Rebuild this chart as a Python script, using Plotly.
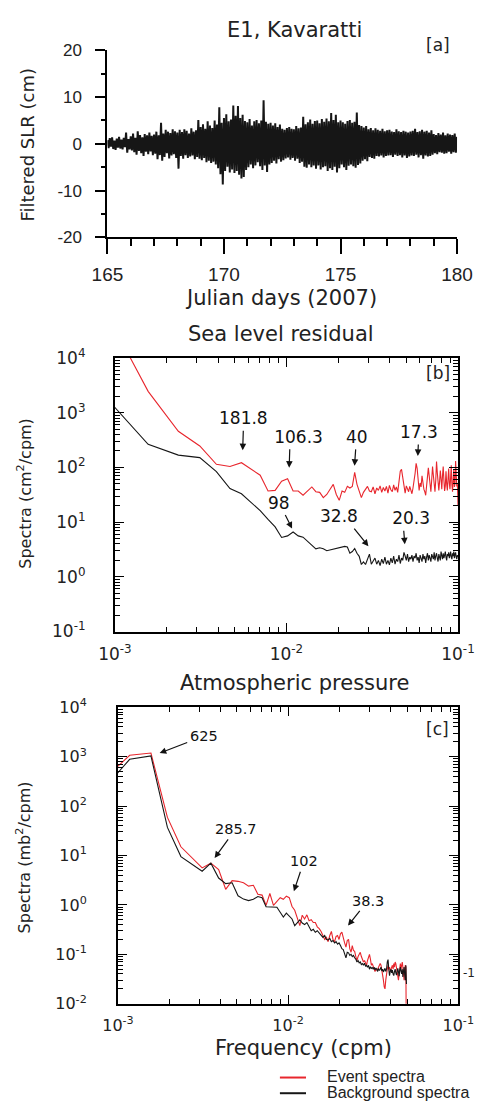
import math
import plotly.graph_objects as go

W, H = 502, 1114
RED = "#e8262d"
BLACK = "#161616"

# ---------------- Panel [a]: filtered sea-level residual (cm) ----------------
slr_start_day = 165.0
slr_step_day = 0.05
slr_cm = [
    0.8, -0.9, 1.2, -0.6, 1.4, -1.1, 0.7, -1.3, 1.1, -0.8, 1.5, -1.0, 0.9, -1.2, 1.3, -0.7, 2.4, -1.9, 1.0, -1.2,
    1.6, -1.4, 2.2, -1.8, 1.3, -2.3, 2.7, -1.5, 1.9, -2.0, 1.4, -2.6, 2.1, -1.7, 1.8, -2.2, 2.4, -1.6, 1.7, -2.4,
    2.0, -2.1, 2.6, -3.3, 1.8, -2.4, 4.5, -3.6, 2.2, -2.8, 3.0, -2.0, 2.6, -3.1, 2.3, -2.5, 3.1, -2.2, 2.7, -3.0,
    2.4, -5.3, 3.0, -2.6, 2.5, -3.2, 3.1, -2.4, 2.8, -3.0, 2.2, -2.7, 3.3, -2.5, 2.6, -3.3, 2.9, -2.8, 5.1, -3.2,
    3.6, -3.5, 4.2, -3.0, 3.2, -3.9, 4.8, -3.6, 3.9, -4.1, 3.4, -3.8, 5.0, -4.4, 4.1, -5.2, 7.8, -6.5, 4.5, -8.7,
    5.5, -5.8, 6.3, -4.9, 4.8, -6.1, 5.2, -5.5, 8.2, -6.2, 6.0, -5.8, 8.1, -6.6, 5.5, -7.4, 6.2, -7.1, 4.9, -5.6,
    4.6, -5.0, 5.3, -4.4, 3.9, -5.2, 4.8, -4.6, 5.1, -3.9, 4.4, -4.8, 5.0, -5.6, 9.3, -4.6, 4.7, -6.0, 4.3, -4.4,
    4.5, -4.1, 3.9, -3.6, 4.4, -4.2, 3.6, -3.3, 4.1, -3.8, 3.2, -3.5, 3.0, -3.1, 3.4, -2.9, 3.6, -3.4, 3.2, -3.0,
    3.1, -3.6, 3.8, -3.2, 3.3, -4.1, 3.5, -3.8, 5.8, -4.9, 4.2, -5.1, 4.6, -4.4, 5.2, -5.0, 4.3, -4.6, 4.9, -5.3,
    5.0, -4.6, 4.4, -5.5, 5.3, -5.0, 4.7, -4.8, 5.4, -5.8, 4.8, -5.2, 6.6, -5.6, 5.1, -4.9, 6.2, -6.1, 4.6, -5.2,
    5.0, -4.4, 4.6, -5.0, 4.3, -5.6, 4.9, -4.7, 5.1, -4.4, 4.5, -4.8, 4.7, -5.1, 6.7, -4.5, 4.0, -4.2, 3.8, -3.6,
    3.5, -3.3, 3.8, -3.7, 3.1, -2.8, 3.4, -3.0, 2.9, -3.2, 3.3, -2.6, 3.0, -2.7, 2.8, -2.5, 3.2, -2.9, 2.7, -2.6,
    2.9, -2.5, 3.0, -2.4, 2.6, -2.8, 2.5, -2.3, 3.1, -2.6, 2.7, -2.4, 2.5, -2.9, 2.8, -2.5, 2.6, -3.0, 2.4, -2.7,
    2.6, -2.5, 2.8, -2.6, 3.2, -2.3, 2.5, -2.9, 2.7, -2.4, 3.0, -3.2, 2.6, -2.5, 2.8, -2.7, 2.4, -2.6, 2.9, -2.3,
    2.1, -2.0, 1.9, -2.2, 2.3, -1.8, 2.0, -1.9, 2.4, -2.1, 1.8, -2.0, 2.2, -1.7, 2.0, -2.1, 1.9, -1.8, 2.2, -1.9,
    1.5,
]
slr_ticks = [-20, -10, 0, 10, 20]
slr_tick_text = ["-20", "-10", "0", "10", "20"]

# ---------------- Panel [b]: sea level residual spectra ----------------
df_b = 1.0 / 1280.0          # frequency resolution (cpm), bins k = 1..128
sl_event = [
    146000, 2460, 459, 247, 114, 104, 122, 91, 72, 37,
    38, 56, 62, 37, 37, 31, 37, 44, 36, 35,
    28, 32, 40, 49, 32, 25, 37, 35, 45, 42,
    45, 81, 49, 35, 28, 35, 40, 45, 37, 36,
    44, 33, 42, 38, 46, 35, 43, 37, 45, 34,
    47, 39, 36, 48, 38, 44, 35, 60, 85, 92,
    62, 40, 34, 46, 41, 36, 45, 38, 33, 42,
    55, 78, 119, 96, 60, 38, 52, 44, 70, 48,
    40, 36, 31, 46, 62, 98, 70, 41, 36, 60,
    104, 72, 44, 36, 58, 128, 80, 42, 38, 55,
    88, 62, 40, 70, 104, 58, 37, 46, 85, 50,
    38, 60, 95, 52, 40, 66, 110, 48, 36, 58,
    92, 44, 50, 131, 60, 45, 52, 20,
]
sl_background = [
    2940, 265, 168, 151, 84, 41, 33, 23, 16.2, 11.2,
    8.2, 5.25, 5.6, 6.6, 5.6, 5.3, 4.5, 3.8, 3.25, 3.4,
    3.25, 3.0, 3.1, 3.25, 3.3, 3.4, 3.5, 3.6, 3.5, 2.7,
    2.9, 3.3, 2.7, 2.37, 1.68, 1.87, 1.68, 2.14, 2.6, 1.7,
    1.9, 2.2, 1.7, 2.0, 1.6, 2.1, 1.75, 2.3, 1.7, 2.0,
    1.65, 2.2, 1.8, 2.4, 1.7, 2.1, 1.9, 2.5, 1.75, 2.2,
    2.0, 2.8, 2.4, 2.0, 2.6, 1.9, 2.3, 2.1, 2.5, 1.9,
    2.4, 2.2, 2.7, 2.0, 2.3, 1.8, 2.5, 2.2, 1.9, 2.6,
    2.1, 2.4, 1.8, 2.3, 2.7, 2.0, 2.5, 2.2, 1.9, 2.6,
    2.3, 2.1, 2.8, 2.0, 2.4, 2.7, 2.2, 1.9, 2.6, 2.3,
    2.0, 2.9, 2.4, 2.1, 2.7, 2.2, 2.5, 2.9, 2.3, 2.0,
    2.6, 2.4, 2.8, 2.2, 2.5, 2.9, 2.3, 2.1, 2.7, 2.4,
    2.9, 2.2, 2.6, 2.8, 2.3, 2.1, 2.5, 2.3,
]

# ---------------- Panel [c]: atmospheric pressure spectra ----------------
df_c = 1.0 / 2560.0          # frequency resolution (cpm), bins k = 2..127
k0_c = 2
ap_event = [
    292, 1066, 1186, 59, 15, 8.8, 5.6, 7.0, 5.2, 2.07,
    3.1, 3.0, 2.8, 2.4, 2.5, 1.65, 1.58, 0.98, 1.7, 0.98,
    1.2, 1.4, 1.3, 1.5, 1.4, 0.93, 0.78, 0.55, 0.38, 0.62,
    0.52, 0.63, 0.48, 0.5, 0.44, 0.44, 0.36, 0.33, 0.29, 0.24,
    0.2, 0.22, 0.18, 0.24, 0.29, 0.2, 0.18, 0.23, 0.24, 0.2,
    0.26, 0.28, 0.2, 0.17, 0.14, 0.19, 0.2, 0.13, 0.11, 0.15,
    0.12, 0.115, 0.09, 0.075, 0.09, 0.1, 0.11, 0.09, 0.08, 0.07,
    0.075, 0.065, 0.06, 0.075, 0.09, 0.1, 0.08, 0.06, 0.065, 0.058,
    0.05, 0.045, 0.05, 0.048, 0.05, 0.055, 0.06, 0.065, 0.06, 0.05,
    0.04, 0.03, 0.022, 0.02, 0.03, 0.045, 0.05, 0.06, 0.05, 0.055,
    0.045, 0.05, 0.055, 0.06, 0.05, 0.065, 0.055, 0.07, 0.065, 0.05,
    0.04, 0.035, 0.03, 0.04, 0.05, 0.065, 0.05, 0.06, 0.07, 0.055,
    0.04, 0.03, 0.05, 0.06, 0.055, 0.001,
]
ap_background = [
    180, 887, 1035, 37, 9.5, 6.7, 4.8, 7.0, 3.5, 2.7,
    2.8, 1.53, 1.31, 1.22, 1.3, 1.48, 1.4, 0.92, 0.92, 0.92,
    0.9, 0.71, 0.57, 0.68, 0.6, 0.52, 0.38, 0.45, 0.5, 0.43,
    0.4, 0.44, 0.36, 0.3, 0.32, 0.28, 0.3, 0.27, 0.25, 0.22,
    0.24, 0.2, 0.195, 0.21, 0.18, 0.19, 0.17, 0.18, 0.16, 0.17,
    0.15, 0.13, 0.125, 0.1, 0.085, 0.11, 0.107, 0.095, 0.1, 0.09,
    0.095, 0.085, 0.08, 0.07, 0.075, 0.067, 0.07, 0.062, 0.065, 0.06,
    0.066, 0.058, 0.06, 0.055, 0.06, 0.05, 0.056, 0.052, 0.054, 0.05,
    0.055, 0.048, 0.053, 0.05, 0.045, 0.052, 0.047, 0.05, 0.055, 0.046,
    0.05, 0.044, 0.048, 0.052, 0.045, 0.05, 0.07, 0.078, 0.05, 0.037,
    0.045, 0.05, 0.042, 0.048, 0.04, 0.037, 0.045, 0.05, 0.042, 0.038,
    0.045, 0.052, 0.044, 0.036, 0.048, 0.055, 0.045, 0.04, 0.05, 0.035,
    0.045, 0.055, 0.04, 0.03, 0.06, 0.025,
]

decade_b_y = [0.1, 1, 10, 100, 1000, 10000]
decade_b_y_text = ["10<sup>-1</sup>", "10<sup>0</sup>", "10<sup>1</sup>", "10<sup>2</sup>",
                   "10<sup>3</sup>", "10<sup>4</sup>"]
decade_c_y = [0.01, 0.1, 1, 10, 100, 1000, 10000]
decade_c_y_text = ["10<sup>-2</sup>"] + decade_b_y_text
decade_x = [0.001, 0.01, 0.1]
decade_x_text = ["10<sup>-3</sup>", "10<sup>-2</sup>", "10<sup>-1</sup>"]

# ---------------- derived grids ----------------
days = [slr_start_day + i * slr_step_day for i in range(len(slr_cm))]
freq_b = [(i + 1) * df_b for i in range(len(sl_event))]
freq_c = [(i + k0_c) * df_c for i in range(len(ap_event))]


def minor_log(lo, hi):
    return [m * 10.0 ** e for e in range(lo, hi) for m in range(2, 10)]


fig = go.Figure()
fig.add_trace(go.Scatter(x=days, y=slr_cm, mode="lines", line=dict(color=BLACK, width=2),
                         xaxis="x", yaxis="y", showlegend=False))
fig.add_trace(go.Scatter(x=freq_b, y=sl_event, mode="lines", line=dict(color=RED, width=1.1),
                         xaxis="x2", yaxis="y2", showlegend=False))
fig.add_trace(go.Scatter(x=freq_b, y=sl_background, mode="lines", line=dict(color=BLACK, width=1.1),
                         xaxis="x2", yaxis="y2", showlegend=False))
fig.add_trace(go.Scatter(x=freq_c, y=ap_event, mode="lines", line=dict(color=RED, width=1.1),
                         xaxis="x3", yaxis="y3", showlegend=False))
fig.add_trace(go.Scatter(x=freq_c, y=ap_background, mode="lines", line=dict(color=BLACK, width=1.1),
                         xaxis="x3", yaxis="y3", showlegend=False))


def px_x(p):
    return p / W


def px_y(p):
    return 1 - p / H


narrow = "Liberation Sans Narrow, Arial Narrow, sans-serif"
dejavu = "DejaVu Sans, sans-serif"
arial = "Liberation Sans, Arial, sans-serif"

axis_a_common = dict(showline=True, linecolor="black", linewidth=2, showgrid=False, zeroline=False,
                     ticks="outside", tickwidth=2, tickcolor="black")

spec_axis = dict(type="log", showline=True, linecolor="black", linewidth=2, mirror="ticks",
                 showgrid=False, zeroline=False, ticks="inside", ticklen=9, tickwidth=1.2,
                 tickcolor="black", tickmode="array")

fig.update_layout(
    width=W, height=H, margin=dict(l=0, r=0, t=0, b=0),
    paper_bgcolor="white", plot_bgcolor="white", showlegend=False,
    xaxis=dict(axis_a_common, domain=[px_x(97), px_x(472)], anchor="y", range=[165, 180],
               tick0=165, dtick=5, ticklen=15,
               minor=dict(ticks="outside", ticklen=7, tickwidth=2, dtick=1, tick0=165, tickcolor="black"),
               tickfont=dict(family=narrow, size=19, color="#222"), ticklabelstandoff=4),
    yaxis=dict(axis_a_common, domain=[px_y(230), px_y(39)], anchor="x", range=[-20, 20],
               tickmode="array", tickvals=slr_ticks, ticktext=slr_tick_text, ticklen=10,
               minor=dict(ticks="outside", ticklen=4, tickwidth=2, dtick=5, tick0=0, tickcolor="black"),
               tickfont=dict(family=narrow, size=17, color="#222"), ticklabelstandoff=10),
    xaxis2=dict(spec_axis, domain=[px_x(105), px_x(473)], anchor="y2", range=[-3, -1],
                tickvals=decade_x, ticktext=decade_x_text,
                minor=dict(ticks="inside", ticklen=5, tickwidth=1, tickvals=minor_log(-3, -1), tickcolor="black"),
                tickfont=dict(family=dejavu, size=17, color="#222"), ticklabelstandoff=6),
    yaxis2=dict(spec_axis, domain=[px_y(632), px_y(353)], anchor="x2", range=[-1, 4],
                tickvals=decade_b_y, ticktext=decade_b_y_text,
                minor=dict(ticks="inside", ticklen=5, tickwidth=1, tickvals=minor_log(-1, 4), tickcolor="black"),
                tickfont=dict(family=dejavu, size=17, color="#222"), ticklabelstandoff=24),
    xaxis3=dict(spec_axis, domain=[px_x(108.3), px_x(473.3)], anchor="y3", range=[-3, -1],
                tickvals=decade_x, ticktext=decade_x_text,
                minor=dict(ticks="inside", ticklen=5, tickwidth=1, tickvals=minor_log(-3, -1), tickcolor="black"),
                tickfont=dict(family=dejavu, size=16, color="#222"), ticklabelstandoff=6),
    yaxis3=dict(spec_axis, domain=[px_y(1011.7), px_y(709.3)], anchor="x3", range=[-2, 4],
                tickvals=decade_c_y, ticktext=decade_c_y_text,
                minor=dict(ticks="inside", ticklen=5, tickwidth=1, tickvals=minor_log(-2, 4), tickcolor="black"),
                tickfont=dict(family=dejavu, size=16, color="#222"), ticklabelstandoff=26),
)

ann = []


def paper_text(x, y, text, size, family=dejavu, angle=0, xanchor="center"):
    ann.append(dict(x=px_x(x), y=px_y(y), xref="paper", yref="paper", text=text, showarrow=False,
                    font=dict(family=family, size=size, color="#222"), textangle=angle,
                    xanchor=xanchor, yanchor="middle"))


# titles & labels
paper_text(298, 18, "E1, Kavaratti", 21)
paper_text(452, 34, "[a]", 17)
paper_text(11, 135, "Filtered SLR (cm)", 18, angle=-90)
paper_text(283, 292, "Julian days (2007)", 21)
paper_text(283, 328, "Sea level residual", 21)
paper_text(452, 368, "[b]", 17)
paper_text(8, 491, "Spectra (cm<sup>2</sup>/cpm)", 16, angle=-90)
paper_text(298, 685, "Atmospheric pressure", 21)
paper_text(451, 731, "[c]", 17)
paper_text(8, 862, "Spectra (mb<sup>2</sup>/cpm)", 16, angle=-90)
paper_text(307, 1057, "Frequency (cpm)", 21)
paper_text(476, 980, "-1", 12, xanchor="left")

NB = "&nbsp;"
# peak labels: (text, x_tip, y_tip [log10 units], ax, ay [px offset of the label box centre])
peaks_b = [
    ("181.8", -2.255, 2.315, 1, -32),
    (NB * 3 + "106.3", -1.984, 1.993, 1, -31),
    ("40", -1.603, 2.029, 2, -29),
    ("17.3", -1.234, 2.208, 1, -24),
    ("98", -1.967, 0.882, -13, -26),
    ("32.8" + NB * 2, -1.522, 0.559, -24, -30),
    (NB * 3 + "20.3", -1.310, 0.595, -2, -26),
]
peaks_c = [
    ("625", -2.755, 3.073, 44, -17),
    ("285.7", -2.432, 0.950, 21, -29),
    ("102", -1.966, 0.276, 10, -30),
    ("38.3", -1.648, -0.419, 20, -25),
]
for (lst, xr, yr, fs) in [(peaks_b, "x2", "y2", 17), (peaks_c, "x3", "y3", 14.5)]:
    for t, xa, ya, ax, ay in lst:
        ann.append(dict(x=xa, y=ya, xref=xr, yref=yr, text=t, showarrow=True, ax=ax, ay=ay,
                        font=dict(family=dejavu, size=fs, color="#111"),
                        arrowhead=2, arrowsize=1.1, arrowwidth=1.2, arrowcolor="#111",
                        standoff=0, startstandoff=1))

# legend (manual)
legend_items = [("Event spectra", RED, 1087), ("Background spectra", BLACK, 1103)]
shapes = []
for label, col, yy in legend_items:
    shapes.append(dict(type="line", xref="paper", yref="paper", x0=px_x(282), x1=px_x(310),
                       y0=px_y(yy), y1=px_y(yy), line=dict(color=col, width=2)))
    paper_text(330, yy - 1, label, 16, family=arial, xanchor="left")

fig.update_layout(annotations=ann, shapes=shapes)
fig.write_html("out.html")
